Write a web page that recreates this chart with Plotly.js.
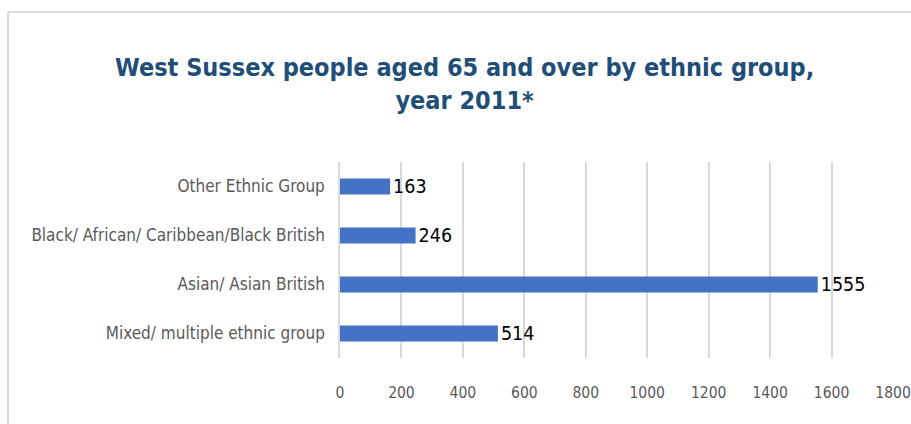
<!DOCTYPE html>
<html>
<head>
<meta charset="utf-8">
<script src="https://cdn.plot.ly/plotly-3.0.1.min.js"></script>
<style>
html,body{margin:0;padding:0;background:#fff;}
#chart{width:911px;height:424px;}
</style>
</head>
<body>
<div id="chart"></div>
<script>
const categories = [
  "Mixed/ multiple ethnic group",
  "Asian/ Asian British",
  "Black/ African/ Caribbean/Black British",
  "Other Ethnic Group"
];
const values = [514, 1555, 246, 163];
const tickValues = [0, 200, 400, 600, 800, 1000, 1200, 1400, 1600, 1800];
const titleText = "West Sussex people aged 65 and over by ethnic group,<br>year 2011*";

const narrow = "DejaVu Sans Condensed, DejaVu Sans, sans-serif";

const trace = {
  type: "bar",
  orientation: "h",
  x: values,
  y: categories,
  marker: {color: "#4472c4"},
  text: values.map(String),
  textposition: "outside",
  constraintext: "none",
  cliponaxis: false,
  textfont: {family: narrow, size: 19.5, color: "#000000"},
  hoverinfo: "x+y"
};

const layout = {
  width: 911,
  height: 424,
  margin: {l: 340, r: 18, t: 162, b: 66},
  paper_bgcolor: "#ffffff",
  plot_bgcolor: "#ffffff",
  showlegend: false,
  bargap: 0.67,
  title: {
    text: titleText,
    x: 0.51,
    xref: "container",
    xanchor: "center",
    y: 0.82,
    yref: "container",
    yanchor: "middle",
    font: {family: "DejaVu Sans Condensed, DejaVu Sans, sans-serif", size: 25, color: "#1f4e79", weight: "bold"}
  },
  xaxis: {
    range: [0, 1800],
    tickvals: tickValues,
    ticktext: tickValues.map(String),
    showgrid: true,
    gridcolor: "#d9d9d9",
    gridwidth: 1.5,
    zeroline: false,
    showline: false,
    ticks: "outside",
    ticklen: 20,
    tickcolor: "rgba(0,0,0,0)",
    tickfont: {family: narrow, size: 15.5, color: "#595959"},
    fixedrange: true
  },
  yaxis: {
    type: "category",
    range: [-0.5, 3.5],
    showgrid: false,
    zeroline: false,
    showline: true,
    linecolor: "#d9d9d9",
    linewidth: 1.5,
    ticks: "outside",
    ticklen: 10,
    tickcolor: "rgba(0,0,0,0)",
    tickfont: {family: narrow, size: 17, color: "#595959"},
    fixedrange: true
  },
  shapes: [
    {type: "line", xref: "paper", yref: "paper", x0: (8 - 340) / 553, x1: (911 - 340) / 553, y0: (358 - 12) / 196, y1: (358 - 12) / 196, line: {color: "#d9d9d9", width: 2}},
    {type: "line", xref: "paper", yref: "paper", x0: (8 - 340) / 553, x1: (8 - 340) / 553, y0: (358 - 12) / 196, y1: (358 - 430) / 196, line: {color: "#d9d9d9", width: 2}}
  ]
};

Plotly.newPlot("chart", [trace], layout, {displayModeBar: false});
</script>
</body>
</html>
